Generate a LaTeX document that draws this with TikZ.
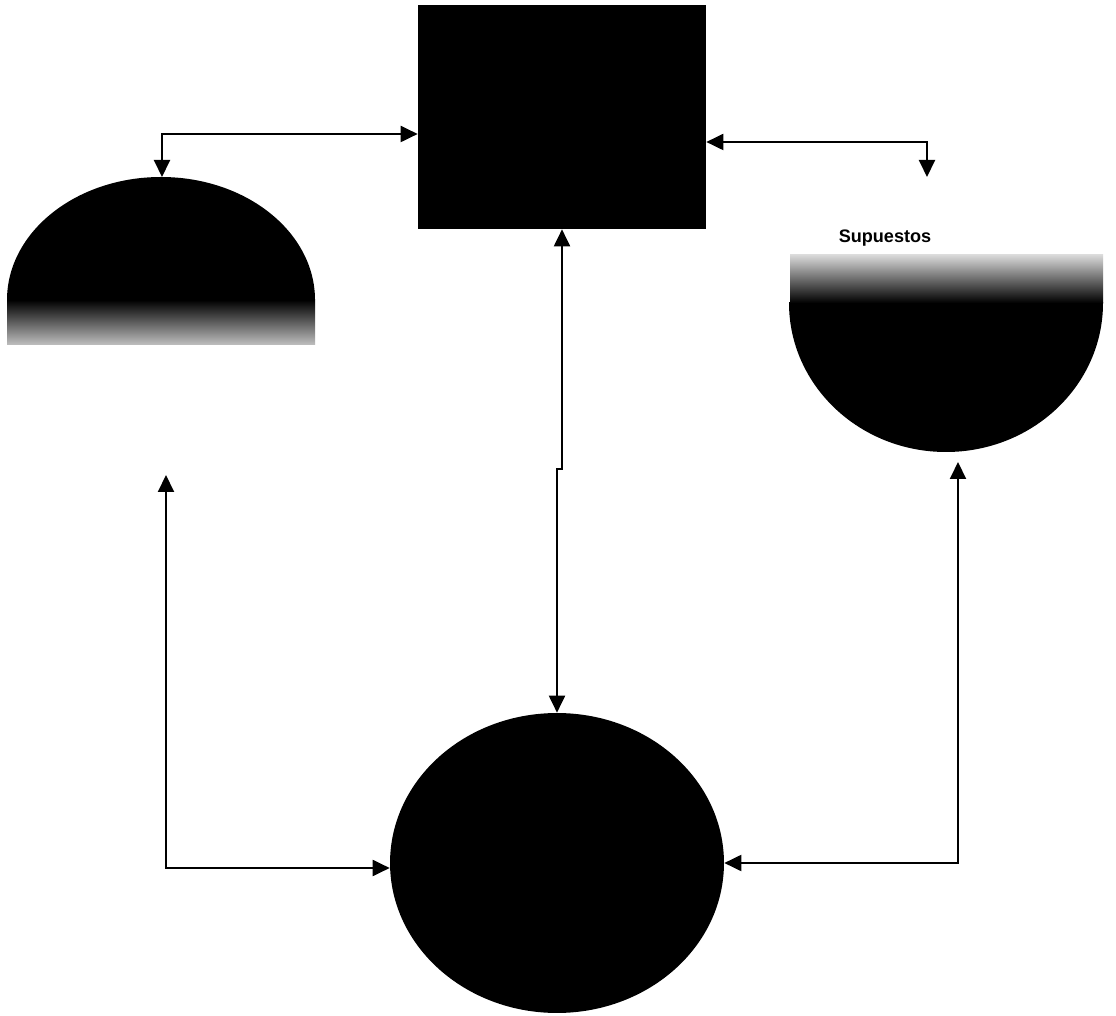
\documentclass[tikz,border=0pt]{standalone}
\usepackage{fontspec}
\newfontfamily\labelFont{Liberation Sans}
\usetikzlibrary{positioning,arrows.meta,shapes.geometric}
\tikzstyle{canvas} = [x = 0.02cm, y = -0.02cm]
\tikzstyle{blockStyle} = [fill=black, draw=none, inner sep=0pt]
\tikzstyle{linkStyle} = [draw=black, line width=0.04cm, {Triangle[length=0.34cm,width=0.32cm]}-{Triangle[length=0.34cm,width=0.32cm]}]
\tikzstyle{labelText} = [font=\labelFont\bfseries\fontsize{10.3}{12}\selectfont, inner sep=0pt]
\tikzstyle{fadeBand} = [draw=none]

\begin{document}
\begin{tikzpicture}[canvas]
  \useasboundingbox [fill=white] (0,0) rectangle (1116,1016);

  % top box and bottom ellipse
  \node [blockStyle, minimum width=5.76cm, minimum height=4.48cm] (box) at (562,117) {};
  \node [blockStyle, ellipse, minimum width=6.68cm, minimum height=6cm] (circ) at (557,863) {};

  % left dome
  \begin{scope}
    \clip (0,0) rectangle (330,300);
    \fill (161,300) ellipse [x radius=154, y radius=123];
  \end{scope}
  \shade [fadeBand, top color=black, middle color=black!75, bottom color=black!25] (7,300) rectangle (315,345);

  % right bowl
  \begin{scope}
    \clip (780,303) rectangle (1110,460);
    \fill (946,303) ellipse [x radius=157, y radius=149];
  \end{scope}
  \shade [fadeBand, top color=black!15, middle color=black!70, bottom color=black] (790,255) rectangle (1103,303);
  \node [labelText] (supuestos) at (885,238) {Supuestos};

  % arrow ends
  \coordinate (leftTop) at (162,177);
  \coordinate (rightTop) at (927,177);
  \coordinate (leftFree) at (166,475);
  \coordinate (rightFree) at (958,462);
  \coordinate (jog) at (557,469);
  \coordinate (boxLeft) at ([yshift=-0.34cm]box.west);
  \coordinate (boxRight) at ([yshift=-0.5cm]box.east);
  \coordinate (circLeft) at ([yshift=-0.1cm]circ.west);

  % connectors
  \draw [linkStyle] (leftTop) |- (boxLeft);
  \draw [linkStyle] (rightTop) |- (boxRight);
  \draw [linkStyle] (box.south) -- (box.south |- jog) -- (jog) -- (circ.north);
  \draw [linkStyle] (leftFree) |- (circLeft);
  \draw [linkStyle] (rightFree) |- (circ.east);
\end{tikzpicture}
\end{document}
